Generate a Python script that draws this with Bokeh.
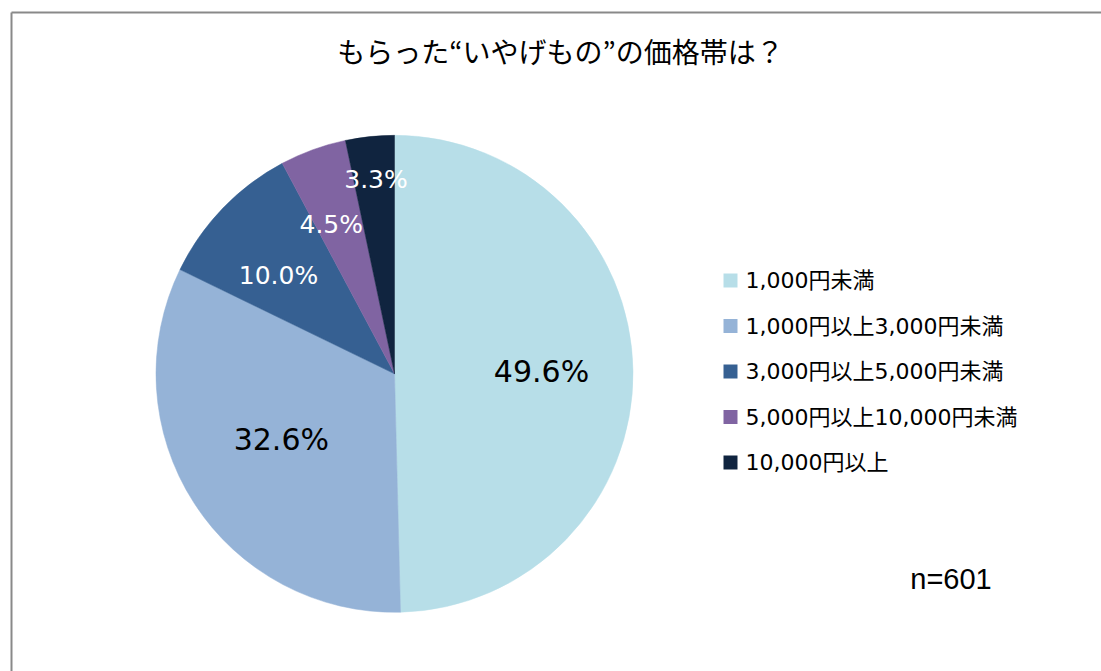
import math
from bokeh.plotting import figure
from bokeh.models import Range1d, ColumnDataSource
from bokeh.core.properties import value
from bokeh.embed import file_html
from bokeh.resources import INLINE

# ---- data ----
categories = ["1,000円未満", "1,000円以上3,000円未満", "3,000円以上5,000円未満",
              "5,000円以上10,000円未満", "10,000円以上"]
shares = [49.6, 32.6, 10.0, 4.5, 3.3]
colors = ["#B7DEE8", "#95B3D7", "#366092", "#8064A2", "#10243F"]
label_colors = ["#000000", "#000000", "#FFFFFF", "#FFFFFF", "#FFFFFF"]
title_text = "もらった“いやげもの”の価格帯は？"
n_text = "n=601"

# ---- layout (pixel-like coordinates) ----
W, H = 1101, 671
cx, cy, R = 394, 297.7, 238.5
label_r = [147, 131, 152, 162, 195]
label_da = [0.0, -2.5, 3.7, 3.0, -0.5]
label_size = ["30px", "30px", "25px", "25px", "25px"]

p = figure(width=W, height=H, x_range=Range1d(0, W), y_range=Range1d(0, H),
           output_backend="svg", toolbar_location=None, min_border=0)
p.axis.visible = False
p.grid.visible = False
p.outline_line_color = None
p.background_fill_color = "white"
p.border_fill_color = "white"

# chart border (left & top visible)
p.line([11, 11], [-20, 659], line_color="#898989", line_width=2)
p.line([11, W + 20], [659, 659], line_color="#898989", line_width=2)

# wedges
total = sum(shares)
starts, ends, mids = [], [], []
cum = 0.0
for s in shares:
    a0 = math.pi / 2 - 2 * math.pi * cum / total
    cum += s
    a1 = math.pi / 2 - 2 * math.pi * cum / total
    starts.append(a0)
    ends.append(a1)
    mids.append((a0 + a1) / 2)

src = ColumnDataSource(dict(start=starts, end=ends, color=colors))
p.wedge(x=cx, y=cy, radius=R, start_angle="start", end_angle="end",
        direction="clock", fill_color="color", line_color="color",
        line_width=0.5, source=src)

# percentage labels
for i, s in enumerate(shares):
    a = mids[i] + math.radians(label_da[i])
    lx = cx + label_r[i] * math.cos(a)
    ly = cy + label_r[i] * math.sin(a)
    p.text(x=[lx], y=[ly], text=[f"{s:.1f}%"], text_align="center",
           text_baseline="middle", text_color=label_colors[i],
           text_font=value("DejaVu Sans"), text_font_size=label_size[i])

# title
p.text(x=[560], y=[621], text=[title_text], text_align="center",
       text_baseline="middle", text_color="black",
       text_font=value("Noto Sans CJK JP"), text_font_size="28px")

# legend
ly0, dy = 391, 45.5
for i, c in enumerate(categories):
    yy = ly0 - i * dy
    p.rect(x=[730], y=[yy], width=14, height=14, fill_color=colors[i],
           line_color=None)
    p.text(x=[745], y=[yy], text=[c], text_align="left",
           text_baseline="middle", text_color="black",
           text_font=value("DejaVu Sans, Noto Sans CJK JP"),
           text_font_size="22px")

# n
p.text(x=[950.5], y=[92.5], text=[n_text], text_align="center",
       text_baseline="middle", text_color="black",
       text_font=value("Liberation Sans"), text_font_size="29px")

open("out.html", "w").write(file_html(p, INLINE))
